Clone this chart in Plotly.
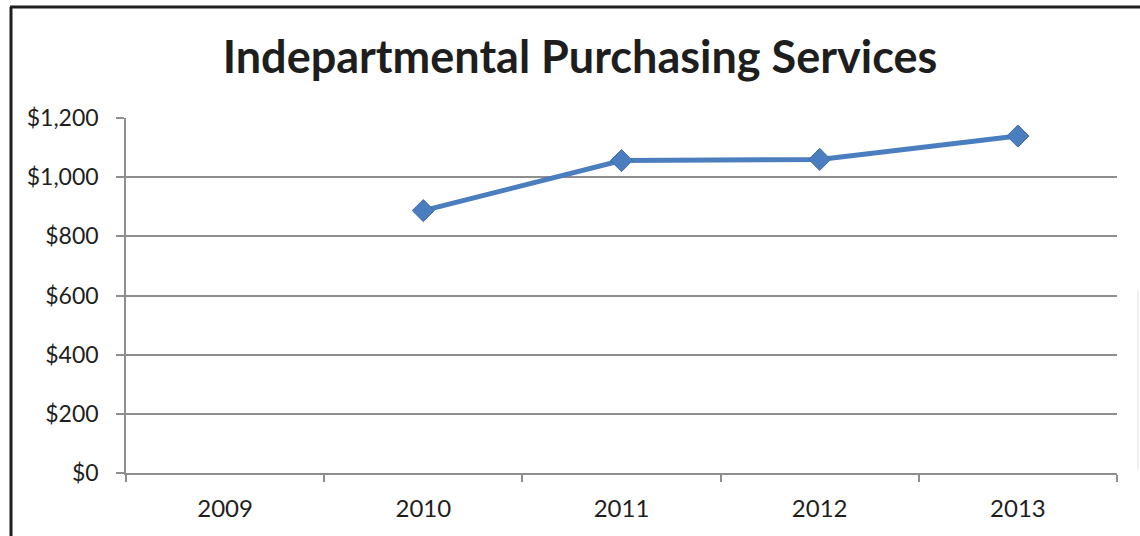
import plotly.graph_objects as go

# Yearly spend for interdepartmental purchasing
years = ["2009", "2010", "2011", "2012", "2013"]
spend = [None, 887, 1056, 1060, 1139]

y_ticks = [0, 200, 400, 600, 800, 1000, 1200]
y_tick_labels = ["$0", "$200", "$400", "$600", "$800", "$1,000", "$1,200"]

W, H = 1140, 536
L, R, T, B = 126, 23, 118, 63
pw, ph = W - L - R, H - T - B


def px_x(x):
    return (x - L) / pw


def px_y(y):
    return 1 - (y - T) / ph


LINE_BLUE = "#4A7EBF"
GRID = "#8E8E8E"
TEXT = "#1E1E1E"
FONT = "Lato, 'Open Sans', sans-serif"

fig = go.Figure(
    go.Scatter(
        x=years,
        y=spend,
        mode="lines+markers",
        line=dict(color=LINE_BLUE, width=5),
        marker=dict(symbol="diamond", size=17, color=LINE_BLUE,
                    line=dict(color="#3F6FAA", width=1)),
        connectgaps=False,
        hoverinfo="x+y",
    )
)

fig.update_layout(
    width=W,
    height=H,
    margin=dict(l=L, r=R, t=T, b=B),
    paper_bgcolor="white",
    plot_bgcolor="white",
    showlegend=False,
    font=dict(family=FONT, color=TEXT, size=23),
    title=dict(
        text="<b>Indepartmental Purchasing Services</b>",
        x=580 / W,
        xanchor="center",
        y=1 - 57 / H,
        yanchor="middle",
        font=dict(family=FONT, size=45, color=TEXT),
    ),
    shapes=[
        # outer frame of the chart
        dict(type="line", xref="paper", yref="paper",
             x0=px_x(11), x1=px_x(11), y0=px_y(7), y1=px_y(545),
             line=dict(color="#1E1E1E", width=3)),
        dict(type="line", xref="paper", yref="paper",
             x0=px_x(10), x1=px_x(1145), y0=px_y(7), y1=px_y(7),
             line=dict(color="#1E1E1E", width=3)),
        dict(type="line", xref="paper", yref="paper",
             x0=px_x(1138), x1=px_x(1138), y0=px_y(290), y1=px_y(470),
             line=dict(color="#E2E2E2", width=1)),
    ],
)

fig.update_xaxes(
    type="category",
    categoryorder="array",
    categoryarray=years,
    range=[-0.5, 4.5],
    tickson="boundaries",
    ticks="outside",
    ticklen=7,
    tickwidth=1.5,
    tickcolor=GRID,
    showgrid=False,
    showline=True,
    linecolor=GRID,
    linewidth=1.5,
    tickfont=dict(size=24, color=TEXT),
    ticklabelstandoff=13,
    fixedrange=True,
)

fig.update_yaxes(
    range=[0, 1200],
    tickvals=y_ticks,
    ticktext=y_tick_labels,
    ticks="outside",
    ticklen=8,
    tickwidth=1.5,
    tickcolor=GRID,
    showgrid=True,
    gridcolor=GRID,
    gridwidth=1.5,
    zeroline=False,
    showline=True,
    linecolor=GRID,
    linewidth=1.5,
    tickfont=dict(size=23, color=TEXT),
    ticklabelstandoff=13,
    fixedrange=True,
)

fig.write_html("out.html")
